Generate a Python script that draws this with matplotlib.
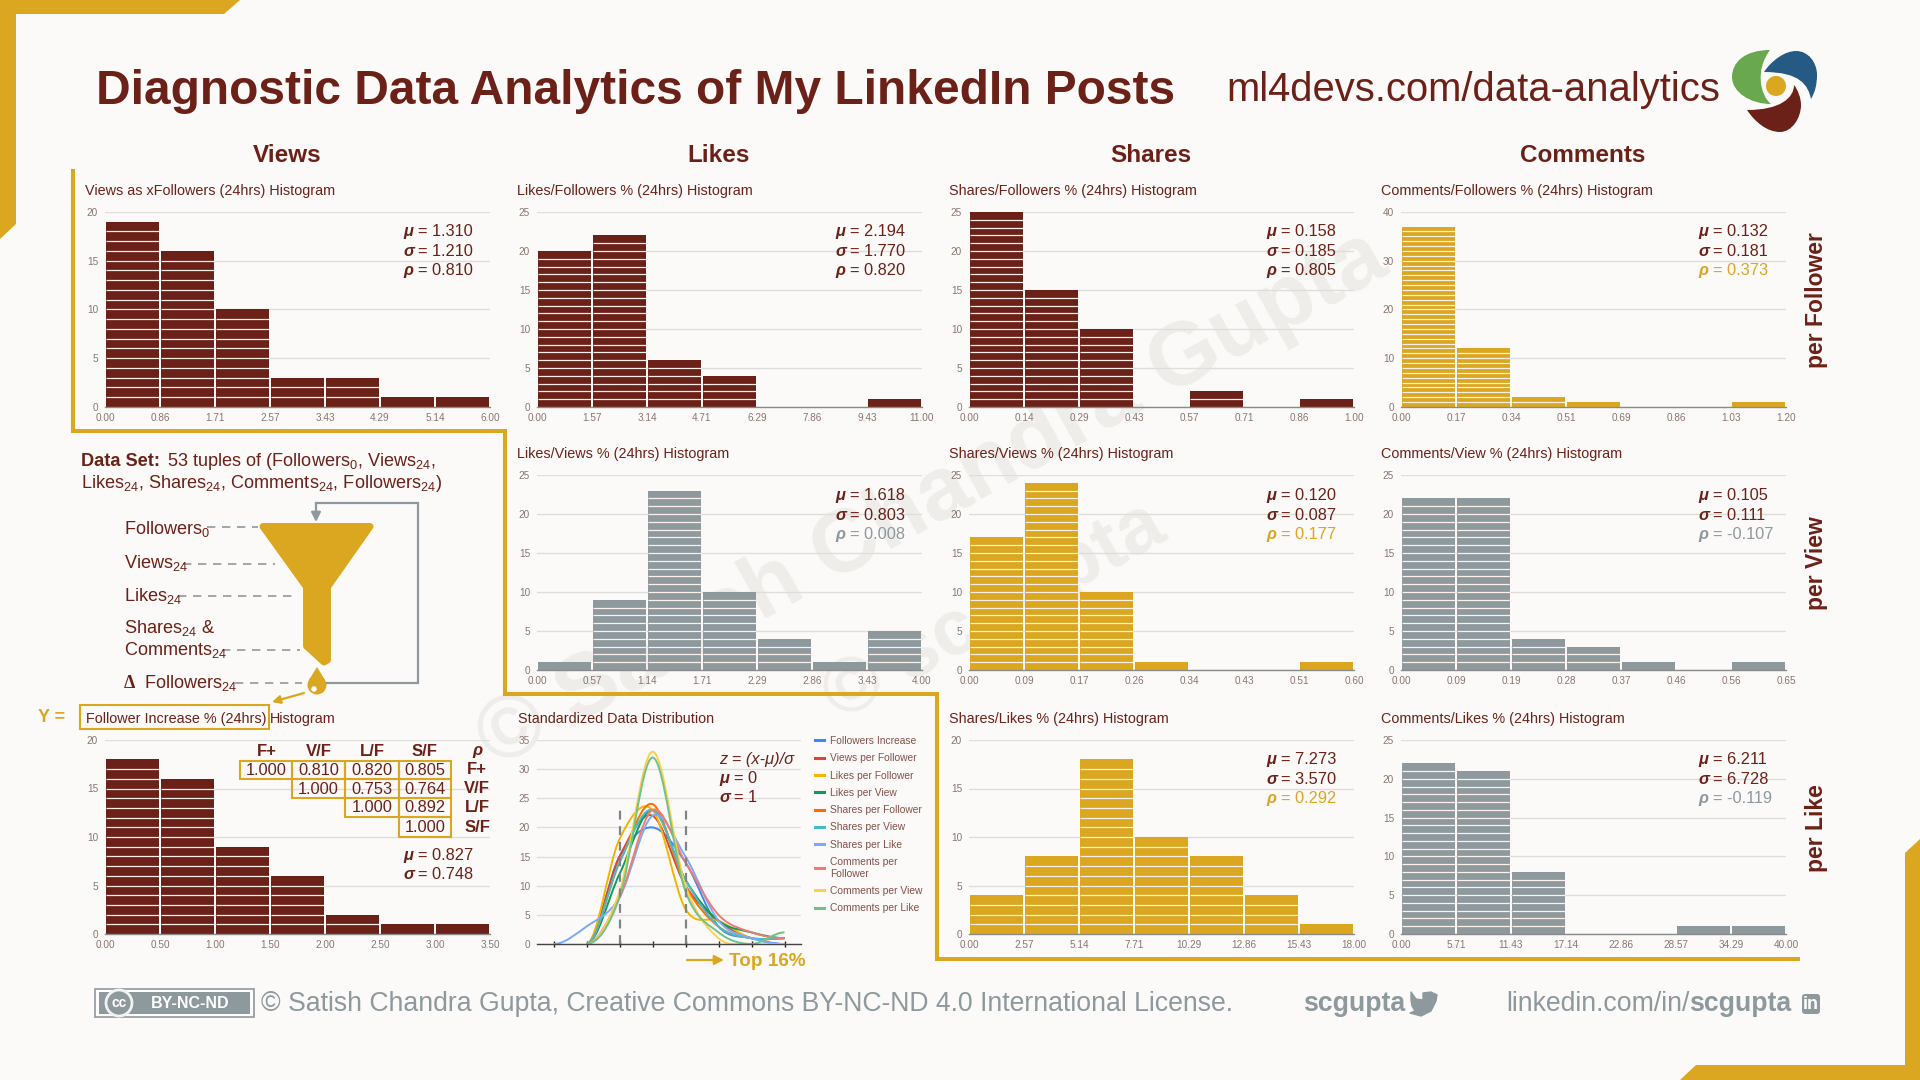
import numpy as np
import matplotlib
matplotlib.use("Agg")
import matplotlib.pyplot as plt
from matplotlib.path import Path
from matplotlib.patches import PathPatch, Polygon, Rectangle, Circle, FancyBboxPatch
from matplotlib.lines import Line2D

plt.rcParams['font.family'] = ['Liberation Sans', 'DejaVu Sans']
plt.rcParams['mathtext.fontset'] = 'custom'
plt.rcParams['mathtext.rm'] = 'Liberation Sans'
plt.rcParams['mathtext.bf'] = 'Liberation Sans:bold'
plt.rcParams['mathtext.default'] = 'regular'

BROWN = '#6c2118'
GOLD = '#dba720'
GREY = '#8e999e'
BG = '#fbfaf8'
LABEL = '#8b7570'

# ------------ data ------------
views_followers = [19, 16, 10, 3, 3, 1, 1]
likes_followers = [20, 22, 6, 4, 0, 0, 1]
shares_followers = [25, 15, 10, 0, 2, 0, 1]
comments_followers = [37, 12, 2, 1, 0, 0, 1]
likes_views = [1, 9, 23, 10, 4, 1, 5]
shares_views = [17, 24, 10, 1, 0, 0, 1]
comments_views = [22, 22, 4, 3, 1, 0, 1]
follower_increase = [18, 16, 9, 6, 2, 1, 1]
shares_likes = [4, 8, 18, 10, 8, 4, 1]
comments_likes = [22, 21, 8, 0, 0, 1, 1]

ticks_vf = ['0.00', '0.86', '1.71', '2.57', '3.43', '4.29', '5.14', '6.00']
ticks_lf = ['0.00', '1.57', '3.14', '4.71', '6.29', '7.86', '9.43', '11.00']
ticks_sf = ['0.00', '0.14', '0.29', '0.43', '0.57', '0.71', '0.86', '1.00']
ticks_cf = ['0.00', '0.17', '0.34', '0.51', '0.69', '0.86', '1.03', '1.20']
ticks_lv = ['0.00', '0.57', '1.14', '1.71', '2.29', '2.86', '3.43', '4.00']
ticks_sv = ['0.00', '0.09', '0.17', '0.26', '0.34', '0.43', '0.51', '0.60']
ticks_cv = ['0.00', '0.09', '0.19', '0.28', '0.37', '0.46', '0.56', '0.65']
ticks_fi = ['0.00', '0.50', '1.00', '1.50', '2.00', '2.50', '3.00', '3.50']
ticks_sl = ['0.00', '2.57', '5.14', '7.71', '10.29', '12.86', '15.43', '18.00']
ticks_cl = ['0.00', '5.71', '11.43', '17.14', '22.86', '28.57', '34.29', '40.00']

z_ticks = [-3, -2, -1, 0, 1, 2, 3, 4]
dist_labels = ['Followers Increase', 'Views per Follower', 'Likes per Follower', 'Likes per View',
               'Shares per Follower', 'Shares per View', 'Shares per Like',
               'Comments per\nFollower', 'Comments per View', 'Comments per Like']
dist_colors = ['#4285f4', '#db4437', '#f4b400', '#0f9d58', '#ff6d01',
               '#46bdc6', '#7baaf7', '#f07b72', '#fcd04f', '#71c287']
dist_values = [
    [0, 0, 15, 20, 14, 3, 1, 0],
    [0, 0, 15, 22, 10, 4, 1, 1],
    [0, 0, 18, 23, 6, 4, 1, 1],
    [0, 0, 12, 23, 11, 4, 2, 1],
    [0, 0, 14, 24, 10, 3, 1, 1],
    [0, 0, 14, 23, 11, 3, 1, 1],
    [0, 3, 8, 22, 15, 4, 1, 0],
    [0, 0, 8, 23, 14, 5, 2, 1],
    [0, 0, 9, 33, 10, 1, 0, 0],
    [0, 0, 8, 32, 9, 2, 0, 2],
]

corr_headers = ['F+', 'V/F', 'L/F', 'S/F']
corr_rows = [[1.000, 0.810, 0.820, 0.805],
             [None, 1.000, 0.753, 0.764],
             [None, None, 1.000, 0.892],
             [None, None, None, 1.000]]

W, H = 1920, 1080
fig = plt.figure(figsize=(19.2, 10.8), dpi=100, facecolor=BG)

back = fig.add_axes([0, 0, 1, 1], zorder=-1)
back.set_xlim(0, W); back.set_ylim(H, 0); back.axis('off')
ov = fig.add_axes([0, 0, 1, 1], zorder=10)
ov.set_xlim(0, W); ov.set_ylim(H, 0); ov.axis('off'); ov.patch.set_alpha(0)

# watermark
back.text(932, 500, '© Satish Chandra Gupta', rotation=29, ha='center', va='center', rotation_mode='anchor',
          fontsize=64, fontweight='bold', color='#eeedea')
back.text(994, 612, '© scgupta', rotation=29, ha='center', va='center', rotation_mode='anchor',
          fontsize=56, fontweight='bold', color='#eeedea')


def axes_px(x, y, w, h):
    return fig.add_axes([x / W, 1 - (y + h) / H, w / W, h / H], facecolor='none')


def style(ax, ymax, step):
    for s in ['top', 'left', 'right']:
        ax.spines[s].set_visible(False)
    ax.spines['bottom'].set_color('#8a8a8a')
    ax.spines['bottom'].set_linewidth(1.0)
    ax.set_ylim(0, ymax)
    ax.set_yticks(np.arange(0, ymax + 1, step))
    ax.grid(axis='y', color='#dedfdd', lw=1.0)
    ax.set_axisbelow(True)
    ax.tick_params(axis='both', length=0, labelsize=7.2, labelcolor=LABEL)
    ax.tick_params(axis='y', pad=5)
    ax.tick_params(axis='x', pad=4)


def hist(col_x, row_y, counts, labels, color, ymax, step, title, row_h=195):
    ax = axes_px(col_x, row_y, 385, row_h)
    style(ax, ymax, step)
    centers = np.arange(len(counts)) + 0.5
    ax.bar(centers, counts, width=0.965, color=color)
    for c, n in zip(centers, counts):
        if n > 1:
            ax.hlines(np.arange(1, n), c - 0.49, c + 0.49, color='#fbf0ea', lw=0.9)
    ax.set_xlim(0, len(counts))
    ax.set_xticks(np.arange(len(labels)))
    ax.set_xticklabels(labels)
    if title:
        ov.text(col_x - 20, row_y - 21, title, fontsize=10.4, color=BROWN, va='center')
    return ax


COL = [105, 537, 969, 1401]
ROW = [212, 475, 740]
hist(COL[0], ROW[0], views_followers, ticks_vf, BROWN, 20, 5, 'Views as xFollowers (24hrs) Histogram')
hist(COL[1], ROW[0], likes_followers, ticks_lf, BROWN, 25, 5, 'Likes/Followers % (24hrs) Histogram')
hist(COL[2], ROW[0], shares_followers, ticks_sf, BROWN, 25, 5, 'Shares/Followers % (24hrs) Histogram')
hist(COL[3], ROW[0], comments_followers, ticks_cf, GOLD, 40, 10, 'Comments/Followers % (24hrs) Histogram')
hist(COL[1], ROW[1], likes_views, ticks_lv, GREY, 25, 5, 'Likes/Views % (24hrs) Histogram')
hist(COL[2], ROW[1], shares_views, ticks_sv, GOLD, 25, 5, 'Shares/Views % (24hrs) Histogram')
hist(COL[3], ROW[1], comments_views, ticks_cv, GREY, 25, 5, 'Comments/View % (24hrs) Histogram')
hist(COL[0], ROW[2], follower_increase, ticks_fi, BROWN, 20, 5, '', row_h=194)
hist(COL[2], ROW[2], shares_likes, ticks_sl, GOLD, 20, 5, 'Shares/Likes % (24hrs) Histogram', row_h=194)
hist(COL[3], ROW[2], comments_likes, ticks_cl, GREY, 25, 5, 'Comments/Likes % (24hrs) Histogram', row_h=194)


# standardized distribution
def smooth(x, y):
    x = np.asarray(x, float); y = np.asarray(y, float)
    m = np.zeros_like(y)
    m[1:-1] = (y[2:] - y[:-2]) / (x[2:] - x[:-2])
    verts = [(x[0], y[0])]; codes = [Path.MOVETO]
    for i in range(len(x) - 1):
        d = (x[i + 1] - x[i]) / 3
        verts += [(x[i] + d, y[i] + m[i] * d), (x[i + 1] - d, y[i + 1] - m[i + 1] * d), (x[i + 1], y[i + 1])]
        codes += [Path.CURVE4] * 3
    return Path(verts, codes)


ax = axes_px(537, 740, 264, 204)
style(ax, 35, 5)
ax.set_xlim(-3.5, 4.5)
ax.spines['bottom'].set_color('#444444')
for lab, col, vals in zip(dist_labels, dist_colors, dist_values):
    start = max(0, next(i for i, v in enumerate(vals) if v > 0) - 1)
    ax.add_patch(PathPatch(smooth(z_ticks[start:], vals[start:]), fc='none', ec=col, lw=1.4))
ax.set_xticks(z_ticks)
ax.set_xticklabels([])
ax.tick_params(axis='x', length=5, width=1.0, color='#222222', direction='inout')
ax.vlines([-1, 1], 0, 23, color='#7d8588', lw=1.6, linestyles=(0, (4, 3)))
handles = [Line2D([], [], color=c, lw=2.2) for c in dist_colors]
ax.legend(handles, dist_labels, loc='upper left', bbox_to_anchor=(815 / W, 1 - 736 / H),
          bbox_transform=fig.transFigure, frameon=False, fontsize=7.4, labelcolor='#85504a',
          handlelength=0.85, handletextpad=0.6, labelspacing=0.71, borderaxespad=0, borderpad=0)
ov.text(518, 719, 'Standardized Data Distribution', fontsize=10.4, color=BROWN, va='center')

SS = 11.8


def stat(x, y, sym, val, color=BROWN):
    ov.text(x, y, sym, fontsize=SS, fontweight='bold', style='italic', color=color, va='baseline')
    ov.text(x + 15, y, '= ' + val, fontsize=SS, color=color, va='baseline')


stats = [
    (403, 236, ('1.310', '1.210', '0.810'), BROWN),
    (835, 236, ('2.194', '1.770', '0.820'), BROWN),
    (1266, 236, ('0.158', '0.185', '0.805'), BROWN),
    (1698, 236, ('0.132', '0.181', '0.373'), GOLD),
    (835, 500, ('1.618', '0.803', '0.008'), GREY),
    (1266, 500, ('0.120', '0.087', '0.177'), GOLD),
    (1698, 500, ('0.105', '0.111', '-0.107'), GREY),
    (1266, 764, ('7.273', '3.570', '0.292'), GOLD),
    (1698, 764, ('6.211', '6.728', '-0.119'), GREY),
]
for x, y, (m, s, r), c in stats:
    stat(x, y, 'μ', m)
    stat(x, y + 19.5, 'σ', s)
    stat(x, y + 39, 'ρ', r, c)
stat(403, 860, 'μ', '0.827')
stat(403, 879, 'σ', '0.748')

# correlation table
cx = [240, 292, 345, 399, 451]
cy = [761, 779, 798, 817, 837]
hc = [267, 319, 372, 424]
for h, x in zip(corr_headers, hc):
    ov.text(x, 751, h, ha='center', va='center', fontsize=12, fontweight='bold', color=BROWN)
ov.text(477, 750, 'ρ', ha='center', va='center', fontsize=12, fontweight='bold', style='italic', color=BROWN)
for i, row in enumerate(corr_rows):
    for j, v in enumerate(row):
        if v is None:
            continue
        ov.add_patch(Rectangle((cx[j], cy[i]), cx[j + 1] - cx[j], cy[i + 1] - cy[i], fc='none', ec=GOLD, lw=1.5))
        ov.text((cx[j] + cx[j + 1]) / 2, (cy[i] + cy[i + 1]) / 2 + 0.5, f'{v:.3f}', ha='center', va='center',
                fontsize=SS, color=BROWN)
    ov.text(477, (cy[i] + cy[i + 1]) / 2, corr_headers[i], ha='center', va='center', fontsize=12,
            fontweight='bold', color=BROWN)

# borders
px, py = zip(*[(73, 169), (73, 431), (505, 431), (505, 694), (937, 694), (937, 959), (1800, 959)])
ov.plot(px, py, color=GOLD, lw=2.9, solid_joinstyle='miter', solid_capstyle='butt')
ov.add_patch(Polygon([(0, 0), (240, 0), (224, 14), (16, 14), (16, 224), (0, 239)], fc=GOLD, ec='none'))
ov.add_patch(Polygon([(1920, 839), (1905, 853), (1905, 1065), (1696, 1065), (1680, 1080), (1920, 1080)], fc=GOLD, ec='none'))

# titles
ov.text(96, 104, 'Diagnostic Data Analytics of My LinkedIn Posts', fontsize=34.5, fontweight='bold', color=BROWN, va='baseline')
ov.text(1226, 101, 'ml4devs.com/data-analytics', fontsize=28.8, color=BROWN, va='baseline')
for x, t in zip([287, 719, 1151, 1583], ['Views', 'Likes', 'Shares', 'Comments']):
    ov.text(x, 156, t, fontsize=17.5, fontweight='bold', color=BROWN, ha='center', va='center')
for y, t in zip([300, 563, 828], ['per Follower', 'per View', 'per Like']):
    ov.text(1816, y, t, fontsize=16.5, fontweight='bold', color=BROWN, rotation=90, ha='center', va='center')


# logo
def bez(points, color):
    verts = [points[0]] + list(points[1:])
    codes = [Path.MOVETO] + [Path.CURVE4] * (len(points) - 1)
    ov.add_patch(PathPatch(Path(verts, codes), fc=color, ec='none'))


bez([(1770, 50), (1745, 50), (1732, 62), (1732, 77), (1732, 92), (1750, 104), (1771, 104),
     (1760, 95), (1755, 70), (1770, 50)], '#6aa84f')
bez([(1764, 72), (1772, 60), (1785, 51), (1796, 51), (1808, 51), (1817, 62), (1817, 75),
     (1817, 85), (1815, 92), (1811, 99), (1808, 85), (1800, 72), (1764, 72)], '#255a85')
bez([(1747, 110), (1755, 122), (1767, 132), (1780, 132), (1792, 132), (1801, 118), (1801, 105),
     (1801, 98), (1798, 90), (1794, 85), (1794, 98), (1780, 110), (1747, 110)], BROWN)
ov.add_patch(Circle((1776, 86), 10, fc=GOLD, ec='none'))

# data-set panel
TS = 13.1
ov.text(81, 466, 'Data Set:', fontsize=TS, fontweight='bold', color=BROWN, va='baseline')
ov.text(167, 466, r'53 tuples of (Followers$_{0}$, Views$_{24}$,', fontsize=TS, color=BROWN, va='baseline')
ov.text(81, 488, r'Likes$_{24}$, Shares$_{24}$, Comments$_{24}$, Followers$_{24}$)', fontsize=TS, color=BROWN, va='baseline')
for y, t in zip([534, 568, 601, 633, 655], [r'Followers$_{0}$', r'Views$_{24}$', r'Likes$_{24}$', r'Shares$_{24}$ &', r'Comments$_{24}$']):
    ov.text(124, y, t, fontsize=TS, color=BROWN, va='baseline')
ov.text(124, 688, 'Δ', fontsize=TS, fontweight='bold', family='Liberation Serif', color=BROWN, va='baseline')
ov.text(144, 688, r'Followers$_{24}$', fontsize=TS, color=BROWN, va='baseline')
for x0, x1, y in [(207, 258, 527), (183, 275, 564), (178, 298, 596), (222, 300, 650), (235, 302, 683)]:
    ov.plot([x0, x1], [y, y], color=GREY, lw=1.2, ls=(0, (5, 4)))
ov.add_patch(Polygon([(263, 526.5), (370, 526.5), (327.5, 587), (327.5, 660), (324, 662), (306.5, 646), (306.5, 587)],
                     fc=GOLD, ec=GOLD, lw=5, joinstyle='round'))
ov.add_patch(Circle((317, 685), 9.5, fc=GOLD, ec='none'))
ov.add_patch(Polygon([(317, 667), (309, 680), (325, 680)], fc=GOLD, ec='none'))
ov.add_patch(Circle((314, 689), 2.8, fc=BG, ec='none'))
ov.plot([327, 418, 418, 316], [683, 683, 503, 503], color=GREY, lw=1.6, solid_joinstyle='miter')
ov.annotate('', xy=(316, 522), xytext=(316, 503), arrowprops=dict(arrowstyle='-|>', color=GREY, lw=1.6, mutation_scale=14, shrinkA=0, shrinkB=0))
ov.annotate('', xy=(272, 702), xytext=(304, 693), arrowprops=dict(arrowstyle='-|>', color=GOLD, lw=1.6, mutation_scale=12, shrinkA=0, shrinkB=0))
ov.text(38, 718, 'Y =', fontsize=13, fontweight='bold', color=GOLD, va='center')
ov.add_patch(Rectangle((80, 705), 189, 24, fc='none', ec=GOLD, lw=1.5))
ov.text(86, 719, 'Follower Increase % (24hrs)', fontsize=10.4, color=BROWN, va='center')
ov.text(270, 719, 'Histogram', fontsize=10.4, color=BROWN, va='center')

# distribution notes
ov.text(719, 764, 'z = (x-μ)/σ', fontsize=SS, style='italic', color=BROWN, va='baseline')
stat(719, 783, 'μ', '0')
stat(719, 802, 'σ', '1')
ov.annotate('', xy=(724, 960), xytext=(687, 960), arrowprops=dict(arrowstyle='-|>', color=GOLD, lw=1.6, mutation_scale=14, shrinkA=0, shrinkB=0))
ov.text(729, 961, 'Top 16%', fontsize=13.6, fontweight='bold', color=GOLD, va='center')

# footer
FS = 19.2
ov.add_patch(Rectangle((95, 989), 159, 28, fc='white', ec=GREY, lw=1.2))
ov.add_patch(Rectangle((99, 992), 151, 22, fc=GREY, ec='none'))
ov.add_patch(Circle((119, 1003), 13, fc=GREY, ec='#f2f2f2', lw=2))
ov.text(119, 1003, 'cc', fontsize=10, fontweight='bold', color='white', ha='center', va='center')
ov.text(190, 1003, 'BY-NC-ND', fontsize=11.5, fontweight='bold', color='white', ha='center', va='center')
ov.text(261, 1004, '© Satish Chandra Gupta, Creative Commons BY-NC-ND 4.0 International License.',
        fontsize=FS, color=GREY, va='center')
ov.text(1303, 1004, 'scgupta', fontsize=FS, fontweight='bold', color=GREY, va='center')
bird = [(1411, 992), (1416, 999), (1423, 1000), (1423, 993), (1431, 992), (1437, 995), (1436, 1001),
        (1431, 1011), (1421, 1016), (1410, 1013), (1415, 1011), (1412, 1006), (1411, 1000)]
ov.add_patch(Polygon(bird, fc=GREY, ec=GREY, lw=1, joinstyle='round'))
ov.text(1506, 1004, 'linkedin.com/in/', fontsize=FS, color=GREY, va='center')
ov.text(1791, 1004, 'scgupta', fontsize=FS, fontweight='bold', color=GREY, ha='right', va='center')
ov.add_patch(FancyBboxPatch((1802, 994), 18, 20, boxstyle='round,pad=0,rounding_size=3', fc=GREY, ec='none'))
ov.text(1811, 1004.5, 'in', fontsize=13, fontweight='bold', color='white', ha='center', va='center')

fig.savefig('out.png', dpi=100, facecolor=BG)
